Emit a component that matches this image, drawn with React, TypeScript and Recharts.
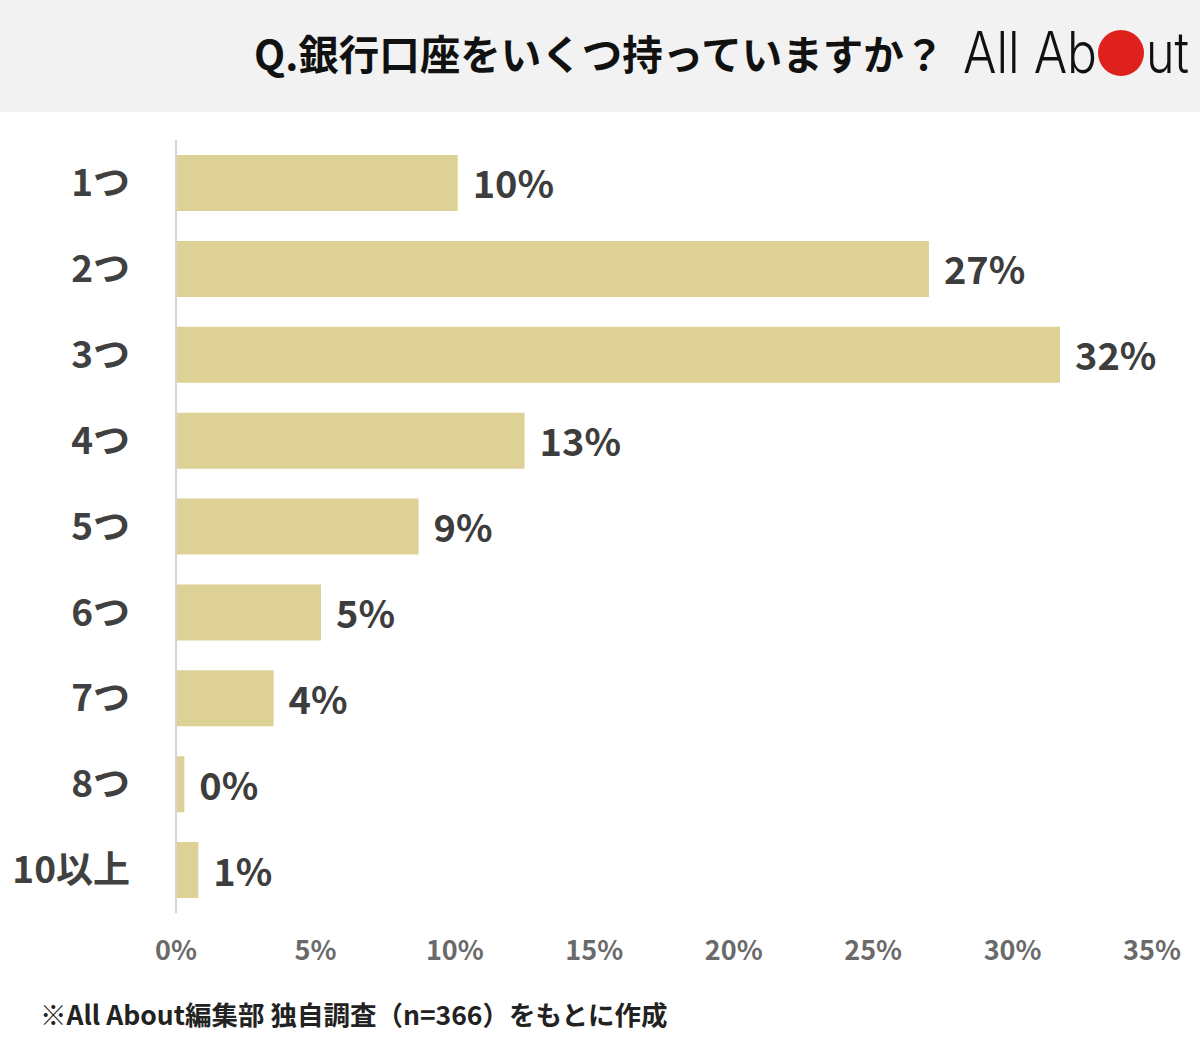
import { BarChart, Bar, XAxis, YAxis, LabelList } from 'recharts';

const categories = ['1つ', '2つ', '3つ', '4つ', '5つ', '6つ', '7つ', '8つ', '10以上'];
const shares = [10.1, 27.0, 31.7, 12.5, 8.7, 5.2, 3.5, 0.3, 0.8];
const shareLabels = ['10%', '27%', '32%', '13%', '9%', '5%', '4%', '0%', '1%'];
const xTicks = [0, 5, 10, 15, 20, 25, 30, 35];

const FONT = '"Noto Sans CJK JP", "Noto Sans", sans-serif';

export default function App() {
  const data = categories.map((c, i) => ({ name: c, value: shares[i], label: shareLabels[i] }));

  return (
    <div style={{ position: 'absolute', left: 0, top: 0, width: 1200, height: 1050, background: '#fff', fontFamily: FONT, overflow: 'hidden' }}>
      {/* header band */}
      <div style={{ position: 'absolute', left: 0, top: 0, width: 1200, height: 112, background: '#f2f2f2' }} />
      <div style={{ position: 'absolute', left: 254, top: 24, fontSize: 40.5, fontWeight: 700, color: '#111', whiteSpace: 'nowrap', lineHeight: '58px' }}>
        Q.銀行口座をいくつ持っていますか？
      </div>
      <svg style={{ position: 'absolute', left: 0, top: 0 }} width={1200} height={112}>
        <text x={963} y={73} fontFamily="Inter, sans-serif" fontWeight={300} fontSize={57} fill="#111" textLength={134} lengthAdjust="spacingAndGlyphs">All Ab</text>
        <circle cx={1121} cy={53} r={23} fill="#e0201c" />
        <text x={1146} y={73} fontFamily="Inter, sans-serif" fontWeight={300} fontSize={57} fill="#111" textLength={43} lengthAdjust="spacingAndGlyphs">ut</text>
      </svg>

      <div style={{ position: 'absolute', left: 0, top: 0 }}>
        <BarChart width={1200} height={1000} data={data} layout="vertical" margin={{ top: 140, right: 48, bottom: 27, left: 0 }}>
          <XAxis
            type="number"
            domain={[0, 35]}
            ticks={xTicks}
            tickFormatter={v => `${v}%`}
            axisLine={false}
            tickLine={false}
            tickSize={0}
            tickMargin={28}
            height={60}
            interval={0}
            tick={{ fontSize: 27, fontWeight: 600, fill: '#6a6a6a', fontFamily: FONT }}
          />
          <YAxis
            type="category"
            dataKey="name"
            width={176}
            axisLine={{ stroke: '#d4d4d4', strokeWidth: 2 }}
            tickLine={false}
            tickSize={0}
            tickMargin={46}
            interval={0}
            tick={{ fontSize: 37, fontWeight: 700, fill: '#404040', fontFamily: FONT }}
          />
          <Bar dataKey="value" fill="#ddd196" barSize={56} isAnimationActive={false}>
            <LabelList dataKey="label" position="right" offset={15} dy={2} style={{ fontSize: 38, fontWeight: 700, fill: '#3d3d3d', fontFamily: FONT }} />
          </Bar>
        </BarChart>
      </div>

      <div style={{ position: 'absolute', left: 40, top: 995, fontSize: 26.5, fontWeight: 700, color: '#222', whiteSpace: 'nowrap', lineHeight: '38px' }}>
        ※All About編集部 独自調査（n=366）をもとに作成
      </div>
    </div>
  );
}
